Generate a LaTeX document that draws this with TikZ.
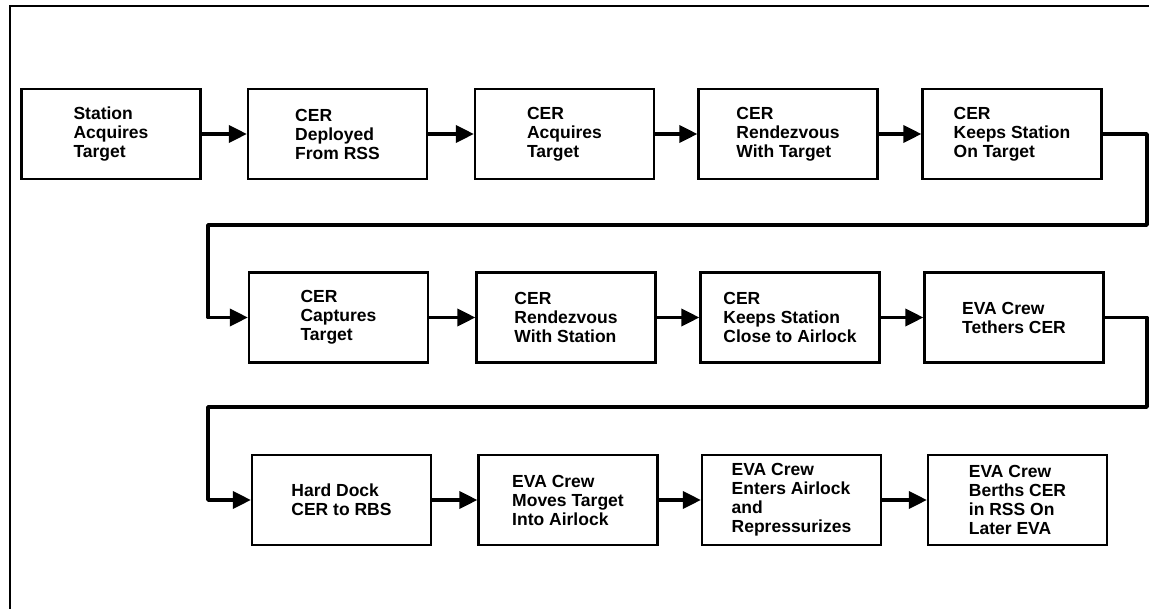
\documentclass[tikz,border=0pt]{standalone}
\usepackage{fontspec}
\setmainfont{Liberation Sans}
\usetikzlibrary{arrows.meta}
\tikzset{
  box/.style={draw, line width=2.2pt, minimum width=179pt, minimum height=90pt,
    inner sep=0pt, align=left, font=\bfseries\fontsize{17.5}{19}\selectfont},
  flow/.style={line width=3.5pt, line join=round, -{Triangle[length=18pt,width=17pt]}},
  frame/.style={line width=2pt}
}
\begin{document}
\begin{tikzpicture}[x=1pt, y=-1pt]
    \useasboundingbox (0,0) rectangle (1149,609);
    \draw[frame] (1149,6) -- (10,6) -- (10,609);
    % first row
    \node[box] (stnacq) at (111,134) {Station\\Acquires\\Target};
    \node[box] (deploy) at (337.5,134) {CER\\Deployed\\From RSS};
    \node[box] (ceracq) at (564.5,134) {CER\\Acquires\\Target};
    \node[box] (rdvtgt) at (788,134) {CER\\Rendezvous\\With Target};
    \node[box] (keeptgt) at (1012,134) {CER\\Keeps Station\\On Target};
    % second row
    \node[box] (capture) at (338.5,317.5) {CER\\Captures\\Target};
    \node[box] (rdvstn) at (566,317.5) {CER\\Rendezvous\\With Station};
    \node[box] (keepair) at (790,317.5) {CER\\Keeps Station\\Close to Airlock};
    \node[box] (tether) at (1014,317.5) {EVA Crew\\Tethers CER};
    % third row
    \node[box] (harddock) at (341.5,500) {Hard Dock\\CER to RBS};
    \node[box] (movetgt) at (568,500) {EVA Crew\\Moves Target\\Into Airlock};
    \node[box] (enterair) at (791.5,500) {EVA Crew\\Enters Airlock\\and\\Repressurizes};
    \node[box] (berth) at (1017.5,500) {EVA Crew\\Berths CER\\in RSS On\\Later EVA};
    \foreach \a/\b in {stnacq/deploy, deploy/ceracq, ceracq/rdvtgt, rdvtgt/keeptgt,
      capture/rdvstn, rdvstn/keepair, keepair/tether,
      harddock/movetgt, movetgt/enterair, enterair/berth}{
      \draw[flow] (\a) -- (\b);
    }
    % returns to the next row
    \coordinate (r1) at (1147,225);
    \coordinate (l1) at (208,225);
    \coordinate (r2) at (1147,407);
    \coordinate (l2) at (208,407);
    \draw[flow] (keeptgt.east) -| (r1) -- (l1) |- (capture.west);
    \draw[flow] (tether.east) -| (r2) -- (l2) |- (harddock.west);
\end{tikzpicture}
\end{document}
